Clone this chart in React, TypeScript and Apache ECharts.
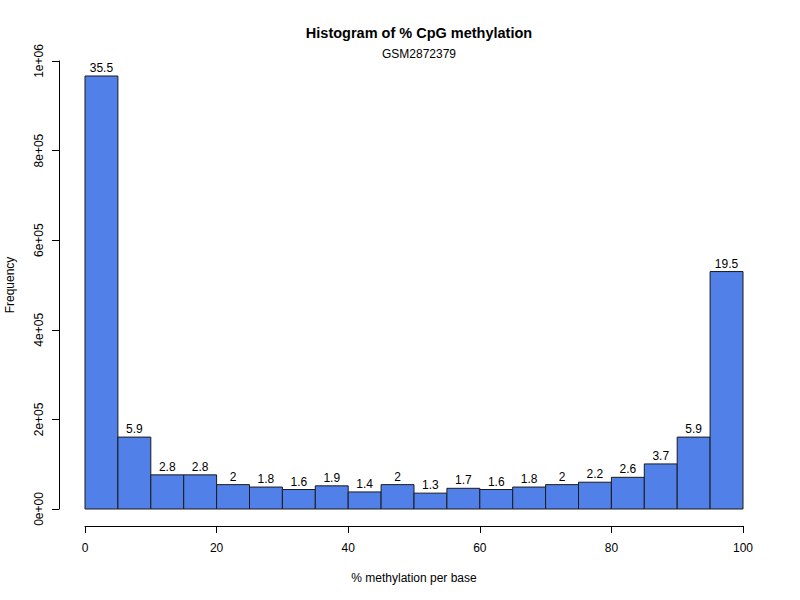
import React, { useEffect, useRef } from "react";
import * as echarts from "echarts";

const binEdges = [0, 5, 10, 15, 20, 25, 30, 35, 40, 45, 50, 55, 60, 65, 70, 75, 80, 85, 90, 95, 100];
const counts = [
  966500, 160500, 76200, 76200, 54400, 49000, 43500, 51700, 38100, 54400,
  35400, 46200, 43500, 49000, 54400, 59800, 70700, 100600, 160500, 530000,
];
const percentLabels = [
  "35.5", "5.9", "2.8", "2.8", "2", "1.8", "1.6", "1.9", "1.4", "2",
  "1.3", "1.7", "1.6", "1.8", "2", "2.2", "2.6", "3.7", "5.9", "19.5",
];
const xTicks = [0, 20, 40, 60, 80, 100];
const yTickLabels = ["0e+00", "2e+05", "4e+05", "6e+05", "8e+05", "1e+06"];

const FONT = "Liberation Sans, Arial, Helvetica, sans-serif";

export default function App() {
  const ref = useRef<HTMLDivElement>(null);
  useEffect(() => {
    if (!ref.current) return;
    const chart = echarts.init(ref.current, undefined, { renderer: "svg" });
    const data = counts.map((c, i) => [binEdges[i], binEdges[i + 1], c, i]);
    chart.setOption({
      animation: false,
      backgroundColor: "#ffffff",
      textStyle: { fontFamily: FONT },
      title: [
        {
          text: "Histogram of % CpG methylation",
          left: 414,
          top: 20,
          textAlign: "center",
          textStyle: { fontFamily: FONT, fontSize: 14.5, fontWeight: "bold", color: "#000" },
        },
        {
          text: "GSM2872379",
          left: 414,
          top: 43,
          textAlign: "center",
          textStyle: { fontFamily: FONT, fontSize: 12, fontWeight: "normal", color: "#000" },
        },
      ],
      graphic: [
        {
          type: "text",
          x: 10,
          y: 285,
          rotation: Math.PI / 2,
          style: {
            text: "Frequency",
            textAlign: "center",
            textVerticalAlign: "middle",
            fill: "#000",
            font: `12px ${FONT}`,
          },
        },
      ],
      grid: {
        left: 85,
        top: 61,
        width: 658,
        height: 448,
        containLabel: false,
        outerBoundsMode: "none",
      },
      xAxis: {
        type: "value",
        min: 0,
        max: 100,
        interval: 20,
        offset: 17,
        axisLine: { show: true, onZero: false, lineStyle: { color: "#000", width: 1 } },
        axisTick: { show: true, length: 7, lineStyle: { color: "#000" } },
        axisLabel: {
          color: "#000",
          fontSize: 12,
          fontFamily: FONT,
          margin: 16,
          formatter: (v: number) => (xTicks.includes(v) ? String(v) : ""),
        },
        splitLine: { show: false },
        name: "% methylation per base",
        nameLocation: "middle",
        nameGap: 46,
        nameTextStyle: { color: "#000", fontSize: 12, fontFamily: FONT },
      },
      yAxis: {
        type: "value",
        min: 0,
        max: 1000000,
        interval: 200000,
        offset: 26,
        axisLine: { show: true, onZero: false, lineStyle: { color: "#000", width: 1 } },
        axisTick: { show: true, length: 7, lineStyle: { color: "#000" } },
        axisLabel: {
          color: "#000",
          fontSize: 12,
          fontFamily: FONT,
          rotate: 90,
          margin: 14,
          formatter: (v: number) => yTickLabels[Math.round(v / 200000)] ?? "",
        },
        splitLine: { show: false },
      },
      series: [
        {
          type: "custom",
          data,
          encode: { x: [0, 1], y: 2 },
          renderItem: (params: any, api: any) => {
            const x0 = api.value(0);
            const x1 = api.value(1);
            const y = api.value(2);
            const idx = api.value(3);
            const p0 = api.coord([x0, y]);
            const p1 = api.coord([x1, 0]);
            return {
              type: "group",
              children: [
                {
                  type: "rect",
                  shape: { x: p0[0], y: p0[1], width: p1[0] - p0[0], height: p1[1] - p0[1] },
                  style: { fill: "#5180E9", stroke: "#1a1a1a", lineWidth: 1 },
                },
                {
                  type: "text",
                  style: {
                    x: (p0[0] + p1[0]) / 2,
                    y: p0[1] - 2,
                    text: percentLabels[idx],
                    textAlign: "center",
                    textVerticalAlign: "bottom",
                    fill: "#000",
                    font: `12px ${FONT}`,
                  },
                },
              ],
            };
          },
        },
      ],
    });
    return () => chart.dispose();
  }, []);
  return (
    <div
      ref={ref}
      style={{ position: "fixed", left: 0, top: 0, width: 800, height: 600, background: "#fff" }}
    />
  );
}
